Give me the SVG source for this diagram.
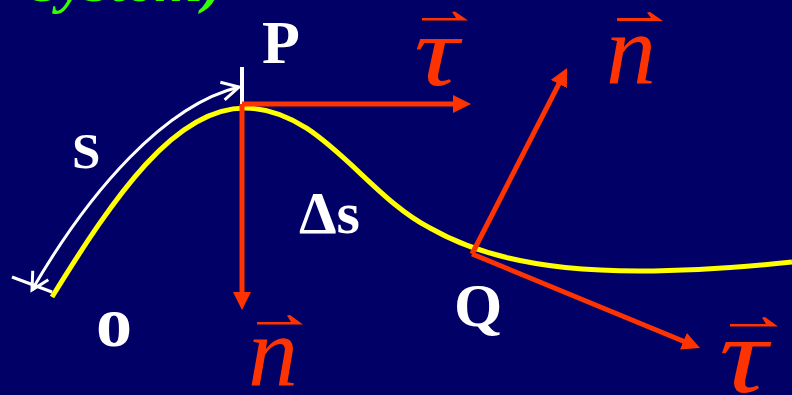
<svg xmlns="http://www.w3.org/2000/svg" width="792" height="395" viewBox="0 0 792 395">
<defs>
<style>
.lbl{font-family:"Liberation Serif","Times New Roman",serif;font-weight:bold;fill:#FFFFFF}
.vec{font-family:"Liberation Serif","Times New Roman",serif;font-style:italic;fill:#FF3300}
.red{stroke:#FF3300;stroke-width:5;fill:none;marker-end:url(#redHead)}
.wht{stroke:#FFFFFF;stroke-width:3;fill:none}
.harp{fill:#FF3300}
</style>
<marker id="redHead" viewBox="0 0 18 18" refX="8" refY="9" markerWidth="18" markerHeight="18" markerUnits="userSpaceOnUse" orient="auto">
<path d="M0,0 L18,9 L0,18 Z" fill="#FF3300"/>
</marker>
<marker id="whtHead" viewBox="-20 -11 23 22" refX="0" refY="0" markerWidth="23" markerHeight="22" markerUnits="userSpaceOnUse" orient="auto-start-reverse">
<path d="M-17,-9 L0,0 L-17,9" fill="none" stroke="#FFFFFF" stroke-width="3"/>
</marker>
</defs>
<rect x="0" y="0" width="792" height="395" fill="#000066"/>
<text x="34" y="1" font-family="Liberation Serif, serif" font-weight="bold" font-style="italic" font-size="62" fill="#33FF00">system)</text>
<g id="curve">
<path d="M52,297 C115,195 175,108 245,108 C320,108 365,195 430,228 C500,268 600,282 792,262" fill="none" stroke="#FFFF00" stroke-width="5"/>
</g>
<g id="connectors">
<path class="wht" d="M32,290 C90,190 165,105 239,87" marker-start="url(#whtHead)" marker-end="url(#whtHead)"/>
<line x1="12" y1="277" x2="52" y2="292" stroke="#FFFFFF" stroke-width="3"/>
<line x1="242" y1="67" x2="242" y2="104" stroke="#FFFFFF" stroke-width="4"/>
<line class="red" x1="242" y1="104" x2="461" y2="104"/>
<line class="red" x1="242" y1="104" x2="242" y2="300"/>
<line class="red" x1="472" y1="254" x2="562.5" y2="76.9"/>
<line class="red" x1="472" y1="254" x2="690.8" y2="344.2"/>
</g>
<g id="P"><text class="lbl" x="262" y="63" font-size="62">P</text></g>
<g id="S"><text class="lbl" x="72" y="168" font-size="51">S</text></g>
<g id="O"><text class="lbl" x="96" y="346" font-size="72">o</text></g>
<g id="Q"><text class="lbl" x="454" y="326" font-size="62">Q</text></g>
<g id="ds"><text class="lbl" x="299" y="233" font-size="60">Δs</text></g>
<g id="tauP">
<path class="harp" d="M422,18 H456 L452,12 L455,11.5 L468,20.5 H422 Z"/>
<text class="vec" transform="translate(414,85) scale(1.25,1)" x="0" y="0" font-size="100">τ</text>
</g>
<g id="nP">
<path class="harp" d="M257,322 H291 L287,315.5 L290,315 L303,324.5 H257 Z"/>
<text class="vec" x="248" y="385" font-size="100">n</text>
</g>
<g id="nQ">
<path class="harp" d="M617,18 H651 L647,12.5 L650,12 L663,21 H617 Z"/>
<text class="vec" x="606" y="83" font-size="100">n</text>
</g>
<g id="tauQ">
<path class="harp" d="M730,324 H766 L762,317.5 L765,317 L778,326.5 H730 Z"/>
<text class="vec" transform="translate(719,392) scale(1.25,1)" x="0" y="0" font-size="108">τ</text>
</g>
</svg>
